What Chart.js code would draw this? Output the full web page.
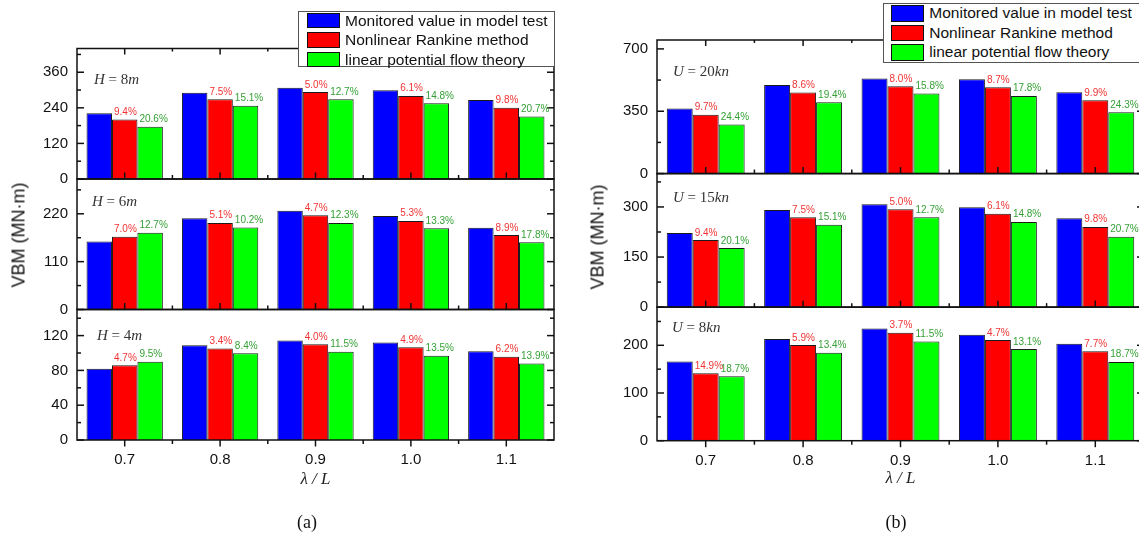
<!DOCTYPE html>
<html>
<head>
<meta charset="utf-8">
<script src="https://cdn.jsdelivr.net/npm/chart.js@4.4.1/dist/chart.umd.min.js"></script>
<style>
  html, body { margin: 0; padding: 0; background: #fff; }
  body { position: relative; width: 1139px; height: 535px; overflow: hidden; font-family: 'Liberation Sans', Arial, sans-serif; }
  canvas { position: absolute; top: 0; }
  .legend { position: absolute; background: #fff; border: 1px solid #555; box-sizing: border-box; }
  .legend .sw { position: absolute; border: 1px solid #111; box-sizing: border-box; }
  .legend .tx { position: absolute; font-size: 15.5px; white-space: nowrap; color: #111; }
  .ylab { position: absolute; font-size: 18px; white-space: nowrap; color: #111; transform: translate(-50%, -50%) rotate(-90deg); }
  .case { position: absolute; font: 15px 'Liberation Serif', 'Times New Roman', serif; line-height: 15px; white-space: nowrap; color: #333; }
  .panel { position: absolute; font: 18px 'Liberation Serif', 'Times New Roman', serif; white-space: nowrap; color: #111; transform: translate(-50%, -50%); }
</style>
</head>
<body>
<canvas id="chartA" width="575" height="535" style="left:0px"></canvas>
<canvas id="chartB" width="580" height="535" style="left:580px"></canvas>

<div class="legend" id="legendA" style="left:298px; top:11px; width:257px; height:56.3px"></div>
<div class="legend" id="legendB" style="left:882.7px; top:3.3px; width:270px; height:59.4px"></div>

<div class="ylab" style="left:18.8px; top:235px">VBM (MN·m)</div>
<div class="ylab" style="left:597.5px; top:237px">VBM (MN·m)</div>

<div class="case" style="left:94px; top:72.4px"><i>H</i> = 8<i>m</i></div>
<div class="case" style="left:92px; top:194.4px"><i>H</i> = 6<i>m</i></div>
<div class="case" style="left:97px; top:328.4px"><i>H</i> = 4<i>m</i></div>
<div class="case" style="left:673px; top:64px"><i>U</i> = 20<i>kn</i></div>
<div class="case" style="left:673px; top:190.4px"><i>U</i> = 15<i>kn</i></div>
<div class="case" style="left:672px; top:320.4px"><i>U</i> = 8<i>kn</i></div>

<div class="panel" style="left:307px; top:522px">(a)</div>
<div class="panel" style="left:896px; top:522px">(b)</div>

<script>
Chart.defaults.font.family = "'Liberation Sans', Arial, sans-serif";
Chart.defaults.color = '#111';

const ratios = ['0.7', '0.8', '0.9', '1.0', '1.1'];
const seriesNames = ['Monitored value in model test', 'Nonlinear Rankine method', 'linear potential flow theory'];
const seriesColors = ['#0000ff', '#ff0000', '#00ff00'];

// (a) wave height H = 8m / 6m / 4m
const h8Test = [222, 291, 308, 299, 266];
const h8Rankine = [201, 269, 293, 280, 240];
const h8Linear = [176, 247, 269, 255, 211];
const h8RankineErr = [9.4, 7.5, 5.0, 6.1, 9.8];
const h8LinearErr = [20.6, 15.1, 12.7, 14.8, 20.7];

const h6Test = [156.5, 210, 227, 215, 188];
const h6Rankine = [167.5, 199, 216.5, 203.5, 171];
const h6Linear = [176.5, 188.5, 199, 186.5, 154.5];
const h6RankineErr = [7.0, 5.1, 4.7, 5.3, 8.9];
const h6LinearErr = [12.7, 10.2, 12.3, 13.3, 17.8];

const h4Test = [82, 108.8, 114.5, 112, 102];
const h4Rankine = [85.9, 105.1, 110, 106.5, 95.7];
const h4Linear = [89.8, 99.7, 101.3, 96.9, 87.8];
const h4RankineErr = [4.7, 3.4, 4.0, 4.9, 6.2];
const h4LinearErr = [9.5, 8.4, 11.5, 13.5, 13.9];

// (b) ship speed U = 20kn / 15kn / 8kn
const u20Test = [365, 498, 534, 530, 456];
const u20Rankine = [330, 455, 491, 484, 411];
const u20Linear = [276, 401, 450, 436, 345];
const u20RankineErr = [9.7, 8.6, 8.0, 8.7, 9.9];
const u20LinearErr = [24.4, 19.4, 15.8, 17.8, 24.3];

const u15Test = [222, 291, 308, 299, 266];
const u15Rankine = [201, 269, 293, 280, 240];
const u15Linear = [177, 247, 269, 255, 211];
const u15RankineErr = [9.4, 7.5, 5.0, 6.1, 9.8];
const u15LinearErr = [20.1, 15.1, 12.7, 14.8, 20.7];

const u8Test = [166, 213, 235, 222, 203];
const u8Rankine = [141.3, 200.4, 226.3, 211, 187.4];
const u8Linear = [135, 184.5, 208, 192, 165];
const u8RankineErr = [14.9, 5.9, 3.7, 4.7, 7.7];
const u8LinearErr = [18.7, 13.4, 11.5, 13.1, 18.7];

const line = (ctx, x1, y1, x2, y2) => {
    ctx.beginPath();
    ctx.moveTo(x1, y1);
    ctx.lineTo(x2, y2);
    ctx.stroke();
};

// boxes round each sub-plot plus the inward tick marks
const framePlugin = {
    id: 'frame',
    afterDatasetsDraw(chart, args, opts) {
        const { ctx, chartArea: { left, right } } = chart;
        const x = chart.scales.x;
        const centres = ratios.map((r, i) => x.getPixelForValue(i));
        const gaps = centres.slice(1).map((c, i) => (c + centres[i]) / 2);
        ctx.save();
        ctx.strokeStyle = '#111';
        ctx.lineWidth = 1.5;
        for (let k = 0; k < opts.rows; k++) {
            const y = chart.scales['y' + k];
            ctx.strokeRect(left, y.top, right - left, y.bottom - y.top);
            y.ticks.forEach((t) => {
                const py = y.getPixelForValue(t.value);
                const len = t.label ? 7 : 4;
                line(ctx, left, py, left + len, py);
                line(ctx, right, py, right - len, py);
            });
            // last sub-plot gets outward ticks, the others point inward
            const dir = k === opts.rows - 1 ? 1 : -1;
            centres.forEach((c) => line(ctx, c, y.bottom, c, y.bottom + dir * 6.5));
            gaps.forEach((g) => line(ctx, g, y.bottom, g, y.bottom + dir * 4));
            if (k === 0) {
                centres.forEach((c) => line(ctx, c, y.top, c, y.top + 6));
                gaps.forEach((g) => line(ctx, g, y.top, g, y.top + 3));
            }
        }
        ctx.restore();
    }
};

// relative error written above the Rankine and linear bars
const errPlugin = {
    id: 'errLabels',
    afterDatasetsDraw(chart) {
        const ctx = chart.ctx;
        ctx.save();
        ctx.font = "10px 'Liberation Sans', Arial, sans-serif";
        ctx.textAlign = 'left';
        ctx.textBaseline = 'alphabetic';
        chart.data.datasets.forEach((ds, di) => {
            if (!ds.err) return;
            ctx.fillStyle = ds.errColor;
            chart.getDatasetMeta(di).data.forEach((bar, i) => {
                const { x, y, width } = bar.getProps(['x', 'y', 'width'], true);
                ctx.fillText(ds.err[i].toFixed(1) + '%', x - width / 2 + 2, y - 4.5);
            });
        });
        ctx.restore();
    }
};

const buildPanel = (id, rows, box) => {
    const datasets = [];
    const scales = {
        x: {
            type: 'category',
            offset: true,
            grid: { display: false, drawTicks: false },
            border: { display: false },
            ticks: { padding: 11, color: '#111', font: { size: 15 } },
            title: {
                display: true,
                text: 'λ / L',
                color: '#222',
                font: { family: "'Liberation Serif', 'Times New Roman', serif", style: 'italic', size: 17 },
                padding: { top: 0, bottom: box.titlePad }
            },
            afterFit: (s) => { s.height = box.xHeight; }
        }
    };
    // left boxes are laid out bottom-up, so register the lowest sub-plot first
    for (let k = rows.length - 1; k >= 0; k--) {
        const r = rows[k];
        scales['y' + k] = {
            type: 'linear',
            position: 'left',
            stack: 'vbm',
            stackWeight: 1,
            stacked: false,
            min: 0,
            max: r.max,
            grid: { display: false, drawTicks: false },
            border: { display: false },
            ticks: {
                stepSize: r.step,
                includeBounds: false,
                autoSkip: false,
                padding: 9,
                color: '#111',
                font: { size: 15 },
                callback: (v) => (v % r.every === 0 ? String(v) : '')
            },
            afterFit: (s) => { s.width = 77; }
        };
    }
    rows.forEach((r, k) => {
        [r.test, r.rankine, r.linear].forEach((vals, j) => {
            datasets.push({
                label: seriesNames[j],
                data: vals,
                yAxisID: 'y' + k,
                stack: 's' + j,
                backgroundColor: seriesColors[j],
                borderColor: '#1a1a1a',
                borderWidth: 1,
                categoryPercentage: 0.8,
                barPercentage: 1,
                err: j === 1 ? r.rankineErr : j === 2 ? r.linearErr : null,
                errColor: j === 1 ? '#f03434' : '#35a035'
            });
        });
    });
    return new Chart(document.getElementById(id), {
        type: 'bar',
        data: { labels: ratios, datasets },
        options: {
            responsive: false,
            animation: false,
            layout: { padding: { top: box.top, right: box.right, left: 0, bottom: 0 } },
            plugins: {
                legend: { display: false },
                tooltip: { enabled: false },
                frame: { rows: rows.length }
            },
            scales
        },
        plugins: [framePlugin, errPlugin]
    });
};

const buildLegend = (id, box) => {
    const el = document.getElementById(id);
    seriesNames.forEach((name, i) => {
        const top = box.first + i * box.pitch;
        const sw = document.createElement('span');
        sw.className = 'sw';
        sw.style.cssText = `left:${box.swLeft}px;top:${top}px;width:33.3px;height:${box.swH}px;background:${seriesColors[i]}`;
        const tx = document.createElement('span');
        tx.className = 'tx';
        tx.style.cssText = `left:${box.txLeft}px;top:${top}px;line-height:${box.swH}px`;
        tx.textContent = name;
        el.append(sw, tx);
    });
};

buildPanel('chartA', [
    { test: h8Test, rankine: h8Rankine, linear: h8Linear, rankineErr: h8RankineErr, linearErr: h8LinearErr, max: 440, step: 60, every: 120 },
    { test: h6Test, rankine: h6Rankine, linear: h6Linear, rankineErr: h6RankineErr, linearErr: h6LinearErr, max: 300, step: 55, every: 110 },
    { test: h4Test, rankine: h4Rankine, linear: h4Linear, rankineErr: h4RankineErr, linearErr: h4LinearErr, max: 150, step: 20, every: 40 }
], { top: 48.5, right: 21, xHeight: 95, titlePad: 44.8 });

buildPanel('chartB', [
    { test: u20Test, rankine: u20Rankine, linear: u20Linear, rankineErr: u20RankineErr, linearErr: u20LinearErr, max: 750, step: 175, every: 350 },
    { test: u15Test, rankine: u15Rankine, linear: u15Linear, rankineErr: u15RankineErr, linearErr: u15LinearErr, max: 400, step: 75, every: 150 },
    { test: u8Test, rankine: u8Rankine, linear: u8Linear, rankineErr: u8RankineErr, linearErr: u8LinearErr, max: 280, step: 50, every: 100 }
], { top: 40, right: 16, xHeight: 94.3, titlePad: 46.5 });

buildLegend('legendA', { swLeft: 7.7, first: 1, pitch: 19.4, swH: 15.3, txLeft: 46 });
buildLegend('legendB', { swLeft: 7, first: 0.7, pitch: 19.6, swH: 16.7, txLeft: 45.6 });
</script>
</body>
</html>
